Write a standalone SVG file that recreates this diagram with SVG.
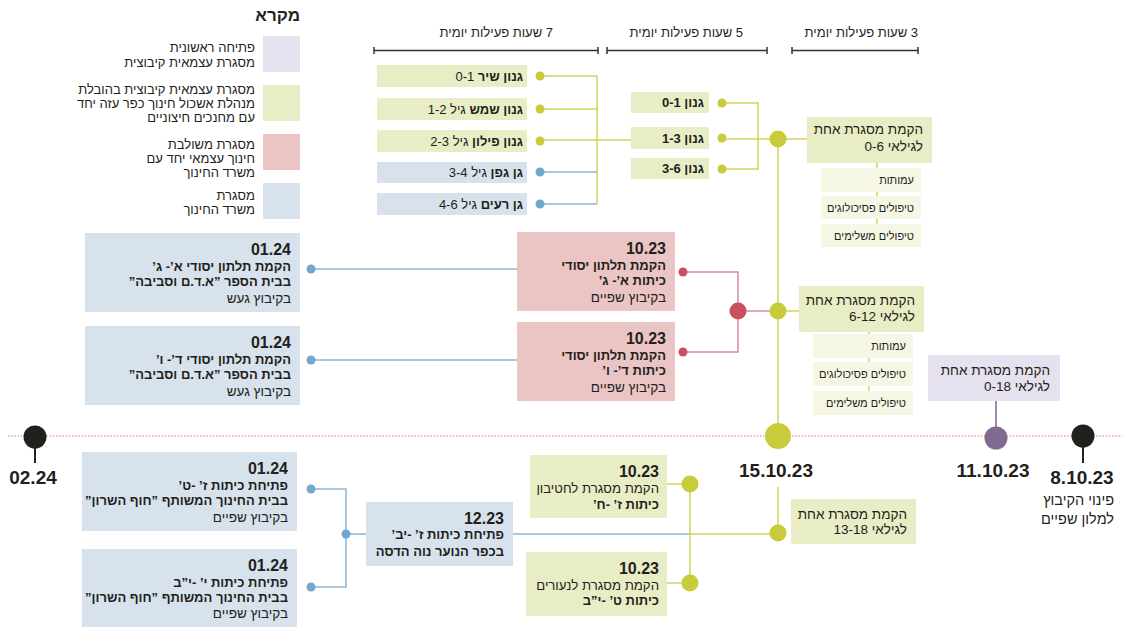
<svg xmlns="http://www.w3.org/2000/svg" width="1127" height="627" viewBox="0 0 1127 627">
<style>
text{font-family:"Liberation Sans","DejaVu Sans",sans-serif;fill:#231f20}
.r{direction:rtl;text-anchor:start}
.c{text-anchor:middle}
.b{font-weight:bold}
.f13{font-size:13px}
.f11{font-size:11px}
.f14{font-size:13.5px}
.f145{font-size:14.5px}
.dt{font-size:16px;font-weight:bold}
.tl{font-size:19px;font-weight:bold}
.gr{fill:#e9edc6}
.bl{fill:#d7e2ec}
.rd{fill:#ebc4c4}
.pu{fill:#e6e1ee}
.lg{fill:#f5f7e4}
.lgrn{stroke:#cfd35a;stroke-width:1.5;fill:none}
.lblu{stroke:#8ab7d6;stroke-width:1.5;fill:none}
.lred{stroke:#dc8c99;stroke-width:1.5;fill:none}
.dg{fill:#c8cb3a}
.db{fill:#72a8cf}
.dr{fill:#c8505f}
</style>

<g id="legend">
<text x="300" y="21" class="r b" font-size="17">מקרא</text>
<rect x="263" y="36" width="37" height="36" class="pu"/>
<text x="255" y="52" class="r f13">פתיחה ראשונית</text>
<text x="255" y="67" class="r f13">מסגרת עצמאית קיבוצית</text>
<rect x="263" y="85" width="37" height="36" class="gr"/>
<text x="255" y="94" class="r f13">מסגרת עצמאית קיבוצית בהובלת</text>
<text x="255" y="108" class="r f13">מנהלת אשכול חינוך כפר עזה יחד</text>
<text x="255" y="122" class="r f13">עם מחנכים חיצוניים</text>
<rect x="263" y="134" width="37" height="36" class="rd"/>
<text x="255" y="149" class="r f13">מסגרת משולבת</text>
<text x="255" y="163" class="r f13">חינוך עצמאי יחד עם</text>
<text x="255" y="177" class="r f13">משרד החינוך</text>
<rect x="263" y="183" width="37" height="36" class="bl"/>
<text x="255" y="200" class="r f13">מסגרת</text>
<text x="255" y="214" class="r f13">משרד החינוך</text>
</g>

<g id="headers" stroke="#333" stroke-width="1.5" fill="none">
<path d="M374 50.5H598M374 47V54M598 47V54"/>
<path d="M607 50.5H767M607 47V54M767 47V54"/>
<path d="M792 50.5H918M792 47V54M918 47V54"/>
</g>
<g id="header-text">
<text x="553" y="37" class="r f13">7 שעות פעילות יומית</text>
<text x="743" y="37" class="r f13">5 שעות פעילות יומית</text>
<text x="918" y="37" class="r f13">3 שעות פעילות יומית</text>
</g>

<g id="connectors">
<path class="lgrn" d="M540 76H597M540 109H597M540 140H631M597 76V204"/>
<path class="lblu" d="M540 172H597M540 204H597"/>
<path class="lgrn" d="M722 103H758V169H722M722 139H808"/>
<path class="lgrn" d="M778 139V436"/>
<path class="lgrn" d="M877 163V224M869 332V391"/>
<path class="lred" d="M683 272H738V352H683M738 311H778"/>
<path class="lgrn" d="M778 311H799"/>
<path class="lblu" d="M311 269H517M311 360H517"/>
<path d="M996 401V436" stroke="#7d6a8e" stroke-width="1.5"/>
<path d="M1083 436V463M35 437V463" stroke="#222" stroke-width="2"/>
<path d="M8 436H1122" stroke="#e0505f" stroke-width="1.2" stroke-dasharray="1.2 2"/>
<path class="lblu" d="M311 489H346V587H311M346 534H366M513 534H690"/>
<path class="lgrn" d="M690 534H778M667 484H690V583H667M778 487V534"/>
<circle cx="683" cy="272" r="4.5" class="dr"/>
<circle cx="683" cy="352" r="4.5" class="dr"/>
<circle cx="738" cy="311" r="8.5" class="dr"/>
<circle cx="311" cy="269" r="4.5" class="db"/>
<circle cx="311" cy="360" r="4.5" class="db"/>
<circle cx="311" cy="489" r="4.5" class="db"/>
<circle cx="311" cy="587" r="4.5" class="db"/>
<circle cx="346" cy="534" r="4.5" class="db"/>
<circle cx="540" cy="76" r="4.5" class="dg"/>
<circle cx="540" cy="109" r="4.5" class="dg"/>
<circle cx="540" cy="141" r="4.5" class="dg"/>
<circle cx="540" cy="172" r="4.5" class="db"/>
<circle cx="540" cy="204" r="4.5" class="db"/>
<circle cx="722" cy="103" r="4.5" class="dg"/>
<circle cx="722" cy="138" r="4.5" class="dg"/>
<circle cx="722" cy="169" r="4.5" class="dg"/>
<circle cx="778" cy="139" r="8.5" class="dg"/>
<circle cx="778" cy="311" r="8.5" class="dg"/>
<circle cx="690" cy="484" r="8.5" class="dg"/>
<circle cx="690" cy="583" r="8.5" class="dg"/>
<circle cx="778" cy="533" r="8.5" class="dg"/>
</g>

<g id="timeline-points">
<circle cx="35" cy="437" r="11.5" fill="#1f211c"/>
<circle cx="1083" cy="436" r="11.5" fill="#1f211c"/>
<circle cx="996" cy="438" r="11.5" fill="#806a8f"/>
<circle cx="778" cy="436" r="13" class="dg"/>
<text x="33" y="484" class="c tl">02.24</text>
<text x="776" y="477" class="c tl">15.10.23</text>
<text x="993" y="477" class="c tl">11.10.23</text>
<text x="1082" y="484" class="c tl">8.10.23</text>
<text x="1114" y="505" class="r f145">פינוי הקיבוץ</text>
<text x="1114" y="524" class="r f145">למלון שפיים</text>
</g>

<g id="n7-1"><rect x="377" y="65" width="150" height="22" class="gr"/><text x="523" y="80.5" class="r f13"><tspan class="b">גנון שיר</tspan> 0-1</text></g>
<g id="n7-2"><rect x="377" y="98" width="150" height="22" class="gr"/><text x="523" y="113.5" class="r f13"><tspan class="b">גנון שמש</tspan> גיל 1-2</text></g>
<g id="n7-3"><rect x="377" y="130" width="150" height="22" class="gr"/><text x="523" y="145.5" class="r f13"><tspan class="b">גנון פילון</tspan> גיל 2-3</text></g>
<g id="n7-4"><rect x="377" y="162" width="150" height="21" class="bl"/><text x="523" y="177" class="r f13"><tspan class="b">גן גפן</tspan> גיל 3-4</text></g>
<g id="n7-5"><rect x="377" y="193" width="150" height="22" class="bl"/><text x="523" y="208.5" class="r f13"><tspan class="b">גן רעים</tspan> גיל 4-6</text></g>

<g id="n5-1"><rect x="631" y="92" width="78" height="21" class="gr"/><text x="704" y="107" class="r f13 b">גנון 0-1</text></g>
<g id="n5-2"><rect x="631" y="127" width="78" height="22" class="gr"/><text x="704" y="142.5" class="r f13 b">גנון 1-3</text></g>
<g id="n5-3"><rect x="631" y="158" width="78" height="21" class="gr"/><text x="704" y="173" class="r f13 b">גנון 3-6</text></g>

<g id="n3-0-6">
<rect x="807" y="117" width="125" height="46" class="gr"/>
<text x="923" y="134" class="r f14">הקמת מסגרת אחת</text>
<text x="923" y="151" class="r f14">לגילאי 0-6</text>
</g>
<g id="n3-sub">
<rect x="821" y="168" width="100" height="24" class="lg"/><text x="914" y="184" class="r f11">עמותות</text>
<rect x="821" y="196" width="100" height="23" class="lg"/><text x="914" y="211.5" class="r f11">טיפולים פסיכולוגים</text>
<rect x="821" y="224" width="100" height="23" class="lg"/><text x="914" y="239.5" class="r f11">טיפולים משלימים</text>
</g>

<g id="n-6-12">
<rect x="799" y="286" width="125" height="46" class="gr"/>
<text x="915" y="305" class="r f14">הקמת מסגרת אחת</text>
<text x="915" y="321" class="r f14">לגילאי 6-12</text>
</g>
<g id="n-6-12-sub">
<rect x="813" y="334" width="100" height="24" class="lg"/><text x="906" y="350" class="r f11">עמותות</text>
<rect x="813" y="362" width="100" height="24" class="lg"/><text x="906" y="378" class="r f11">טיפולים פסיכולוגים</text>
<rect x="813" y="391" width="100" height="24" class="lg"/><text x="906" y="407" class="r f11">טיפולים משלימים</text>
</g>

<g id="n-0-18">
<rect x="928" y="355" width="132" height="46" class="pu"/>
<text x="1050" y="375" class="r f14">הקמת מסגרת אחת</text>
<text x="1050" y="391" class="r f14">לגילאי 0-18</text>
</g>

<g id="n-red-1">
<rect x="517" y="232" width="158" height="79" class="rd"/>
<text x="666" y="254" class="r dt">10.23</text>
<text x="666" y="270" class="r f13 b">הקמת תלתון יסודי</text>
<text x="666" y="285" class="r f13 b">כיתות א’- ג’</text>
<text x="666" y="302" class="r f14">בקיבוץ שפיים</text>
</g>
<g id="n-red-2">
<rect x="517" y="322" width="158" height="79" class="rd"/>
<text x="666" y="344" class="r dt">10.23</text>
<text x="666" y="360" class="r f13 b">הקמת תלתון יסודי</text>
<text x="666" y="375" class="r f13 b">כיתות ד’- ו’</text>
<text x="666" y="392" class="r f14">בקיבוץ שפיים</text>
</g>

<g id="n-blue-1">
<rect x="85" y="233" width="215" height="79" class="bl"/>
<text x="291" y="255" class="r dt">01.24</text>
<text x="291" y="271" class="r f13 b">הקמת תלתון יסודי א’- ג’</text>
<text x="291" y="286" class="r f13 b">בבית הספר ”א.ד.ם וסביבה”</text>
<text x="291" y="303" class="r f14">בקיבוץ געש</text>
</g>
<g id="n-blue-2">
<rect x="85" y="326" width="215" height="79" class="bl"/>
<text x="291" y="348" class="r dt">01.24</text>
<text x="291" y="364" class="r f13 b">הקמת תלתון יסודי ד’- ו’</text>
<text x="291" y="379" class="r f13 b">בבית הספר ”א.ד.ם וסביבה”</text>
<text x="291" y="396" class="r f14">בקיבוץ געש</text>
</g>

<g id="n-13-18">
<rect x="791" y="499" width="125" height="45" class="gr"/>
<text x="907" y="519" class="r f14">הקמת מסגרת אחת</text>
<text x="907" y="534" class="r f14">לגילאי 13-18</text>
</g>

<g id="n-green-a">
<rect x="530" y="455" width="137" height="63" class="gr"/>
<text x="659" y="477" class="r dt">10.23</text>
<text x="659" y="493" class="r" font-size="13.2">הקמת מסגרת לחטיבון</text>
<text x="659" y="509" class="r f13 b">כיתות ז’ -ח’</text>
</g>
<g id="n-green-b">
<rect x="526" y="552" width="141" height="64" class="gr"/>
<text x="659" y="574" class="r dt">10.23</text>
<text x="659" y="590" class="r" font-size="13.2">הקמת מסגרת לנעורים</text>
<text x="659" y="605" class="r f13 b">כיתות ט’ -י”ב</text>
</g>

<g id="n-12-23">
<rect x="366" y="502" width="147" height="64" class="bl"/>
<text x="504" y="524" class="r dt">12.23</text>
<text x="504" y="539" class="r f13 b">פתיחת כיתות ז’ -יב’</text>
<text x="504" y="556" class="r f13 b">בכפר הנוער נוה הדסה</text>
</g>

<g id="n-bl-1">
<rect x="82" y="452" width="215" height="79" class="bl"/>
<text x="288" y="474" class="r dt">01.24</text>
<text x="288" y="490" class="r f13 b">פתיחת כיתות ז’ -ט’</text>
<text x="288" y="505" class="r f13 b">בבית החינוך המשותף ”חוף השרון”</text>
<text x="288" y="522" class="r f14">בקיבוץ שפיים</text>
</g>
<g id="n-bl-2">
<rect x="82" y="549" width="215" height="78" class="bl"/>
<text x="288" y="571" class="r dt">01.24</text>
<text x="288" y="587" class="r f13 b">פתיחת כיתות י’ -י”ב</text>
<text x="288" y="602" class="r f13 b">בבית החינוך המשותף ”חוף השרון”</text>
<text x="288" y="618" class="r f14">בקיבוץ שפיים</text>
</g>
</svg>
